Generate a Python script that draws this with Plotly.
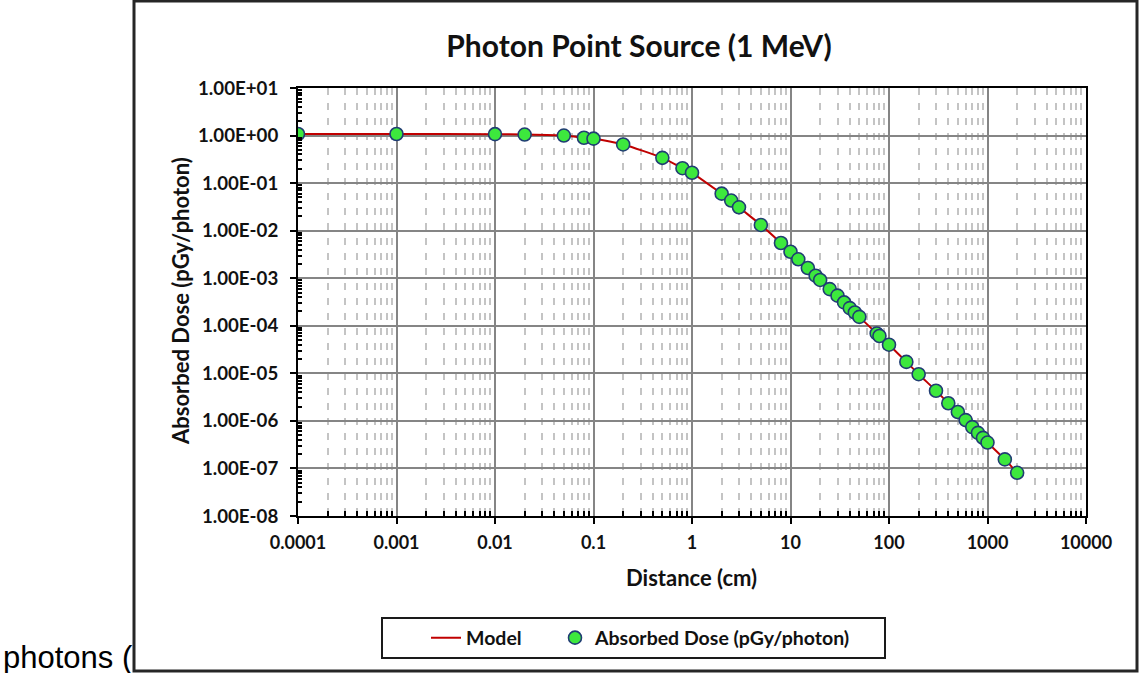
import plotly.graph_objects as go

# Absorbed dose per photon around a 1 MeV photon point source
distance_cm = [0.0001, 0.001, 0.01, 0.02, 0.05, 0.08, 0.1, 0.2, 0.5, 0.8, 1, 2, 2.5, 3,
               5, 8, 10, 12, 15, 18, 20, 25, 30, 35, 40, 45, 50, 75, 80, 100, 150, 200,
               300, 400, 500, 600, 700, 800, 900, 1000, 1500, 2000]
dose_pgy = [1.08, 1.08, 1.07, 1.05, 1.0, 0.9, 0.86, 0.65, 0.34, 0.206, 0.165, 0.06, 0.043,
            0.031, 0.0132, 0.0055, 0.0036, 0.0025, 0.00164, 0.00113, 0.00092, 0.00059,
            0.00043, 0.00031, 0.000235, 0.00019, 0.000154, 6.9e-5, 6.1e-5, 4.0e-5, 1.74e-5,
            9.6e-6, 4.3e-6, 2.35e-6, 1.54e-6, 1.04e-6, 7.4e-7, 5.6e-7, 4.4e-7, 3.5e-7,
            1.55e-7, 8.1e-8]

# Model curve evaluated at the same distances
model_distance_cm = list(distance_cm)
model_dose_pgy = list(dose_pgy)

x_tick_vals = [0.0001, 0.001, 0.01, 0.1, 1, 10, 100, 1000, 10000]
x_tick_text = ["0.0001", "0.001", "0.01", "0.1", "1", "10", "100", "1000", "10000"]
y_tick_vals = [1e1, 1e0, 1e-1, 1e-2, 1e-3, 1e-4, 1e-5, 1e-6, 1e-7, 1e-8]
y_tick_text = ["1.00E+01", "1.00E+00", "1.00E-01", "1.00E-02", "1.00E-03",
               "1.00E-04", "1.00E-05", "1.00E-06", "1.00E-07", "1.00E-08"]

minor_vals = [k * 10.0 ** e for e in range(-8, 4) for k in range(2, 10)]

FONT = "Lato"
TXT = "#111111"

L, R, T, B = 298, 1086, 88, 516
W, H = 1141, 673
pw, ph = R - L, B - T


def px(xp):
    return (xp - L) / pw


def py(yp):
    return (B - yp) / ph


fig = go.Figure()
fig.add_trace(go.Scatter(
    x=model_distance_cm, y=model_dose_pgy, mode="lines", name="Model",
    line=dict(color="#c00000", width=2, shape="spline", smoothing=0.6),
    legend="legend",
))
fig.add_trace(go.Scatter(
    x=distance_cm, y=dose_pgy, mode="markers", name="Absorbed Dose (pGy/photon)",
    marker=dict(size=13, color="#3de83d", line=dict(color="#203d73", width=1.6)),
    legend="legend2",
))

legend_font = dict(family=FONT, size=19.5, weight="bold", color=TXT)
legend_common = dict(orientation="h", xanchor="left", yanchor="middle",
                     bgcolor="rgba(0,0,0,0)", borderwidth=0, font=legend_font)

fig.update_layout(
    width=W, height=H,
    margin=dict(l=L, r=W - R, t=T, b=H - B, autoexpand=False),
    paper_bgcolor="white", plot_bgcolor="white",
    font=dict(family=FONT, color=TXT),
    showlegend=True,
    legend=dict(x=px(426), y=py(638), **legend_common),
    legend2=dict(x=px(555), y=py(638), **legend_common),
    title=dict(
        text="Photon Point Source (1 MeV)", x=639 / W, y=1 - 46 / H,
        xanchor="center", yanchor="middle", xref="container", yref="container",
        font=dict(family=FONT, size=30, weight="bold", color=TXT),
    ),
    xaxis=dict(
        type="log", range=[-4, 4],
        tickvals=x_tick_vals, ticktext=x_tick_text,
        tickfont=dict(family=FONT, size=18, weight="bold", color=TXT),
        ticks="outside", ticklen=6, tickwidth=2, tickcolor="black",
        ticklabelstandoff=3,
        showline=True, linecolor="black", linewidth=2, mirror=True,
        showgrid=True, gridcolor="#858585", gridwidth=2,
        zeroline=False,
        minor=dict(tickvals=minor_vals, ticks="inside", ticklen=5, tickwidth=1.5,
                   tickcolor="black", showgrid=True, gridcolor="#c4c4c4",
                   gridwidth=2, griddash="7px,8px"),
    ),
    yaxis=dict(
        type="log", range=[-8, 1],
        tickvals=y_tick_vals, ticktext=y_tick_text,
        tickfont=dict(family=FONT, size=18.7, weight="bold", color=TXT),
        ticks="outside", ticklen=6, tickwidth=2, tickcolor="black",
        ticklabelstandoff=8,
        showline=True, linecolor="black", linewidth=2, mirror=True,
        showgrid=True, gridcolor="#858585", gridwidth=2,
        zeroline=False,
        minor=dict(tickvals=minor_vals, ticks="inside", ticklen=4, tickwidth=1.5,
                   tickcolor="black", showgrid=False),
    ),
)

# Chart frame and legend box
fig.add_shape(type="rect", xref="paper", yref="paper",
              x0=px(134), x1=px(1137), y0=py(671), y1=py(1),
              line=dict(color="#262626", width=3), layer="below")
fig.add_shape(type="rect", xref="paper", yref="paper",
              x0=px(382), x1=px(885), y0=py(658), y1=py(618),
              line=dict(color="#1a1a1a", width=2), layer="below")

# Axis titles
fig.add_annotation(text="Distance (cm)", xref="paper", yref="paper",
                   x=px(691.5), y=py(577), showarrow=False,
                   xanchor="center", yanchor="middle",
                   font=dict(family=FONT, size=22, weight="bold", color=TXT))
fig.add_annotation(text="Absorbed Dose (pGy/photon)", xref="paper", yref="paper",
                   x=px(180), y=py(301), showarrow=False, textangle=-90,
                   xanchor="center", yanchor="middle",
                   font=dict(family=FONT, size=22, weight="bold", color=TXT))

# Surrounding page text
fig.add_annotation(text="photons (", xref="paper", yref="paper",
                   x=px(1), y=py(657), showarrow=False,
                   xanchor="left", yanchor="middle",
                   font=dict(family="Liberation Sans", size=31, color="black"))

fig.write_html("out.html")
